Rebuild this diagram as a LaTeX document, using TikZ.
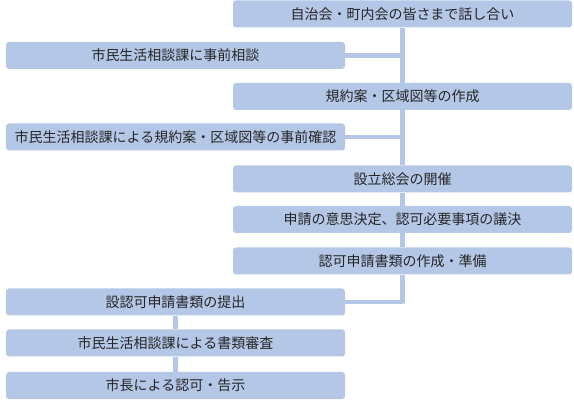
\documentclass[tikz,border=0pt]{standalone}
\usepackage{fontspec}
\setmainfont{Noto Sans CJK JP}
\definecolor{boxblue}{HTML}{B4C7E7}
\begin{document}
\begin{tikzpicture}[x=1pt,y=-1pt,line join=round,
	box/.style={fill=boxblue,rounded corners=3pt,minimum width=339pt,minimum height=27pt,inner sep=0pt,
		font=\fontsize{14}{16}\selectfont,text=black!85},
	link/.style={draw=boxblue,line width=4.5pt}]
	\useasboundingbox (0,0) rectangle (574,401);
	% right column
	\foreach \n/\y/\t in {A/14/{自治会・町内会の皆さまで話し合い},C/96.5/{規約案・区域図等の作成},
		E/179/{設立総会の開催},F/219.5/{申請の意思決定、認可必要事項の議決},G/261/{認可申請書類の作成・準備}
	}{\node[box] (\n) at (402.5,\y) {\t};}
	% left column
	\foreach \n/\y/\t in {B/55.5/{市民生活相談課に事前相談},D/137/{市民生活相談課による規約案・区域図等の事前確認},
		H/302/{設認可申請書類の提出},I/343/{市民生活相談課による書類審査},J/385.5/{市長による認可・告示}
	}{\node[box] (\n) at (175.5,\y) {\t};}
	\draw[link] (A)--(C) (C)--(E) (E)--(F) (F)--(G);
	\draw[link] (B.east)--(B.east -| A.south) (D.east)--(D.east -| A.south);
	\draw[link] (G.south)|-(H.east);
	\draw[link] (H)--(I) (I)--(J);
\end{tikzpicture}
\end{document}
